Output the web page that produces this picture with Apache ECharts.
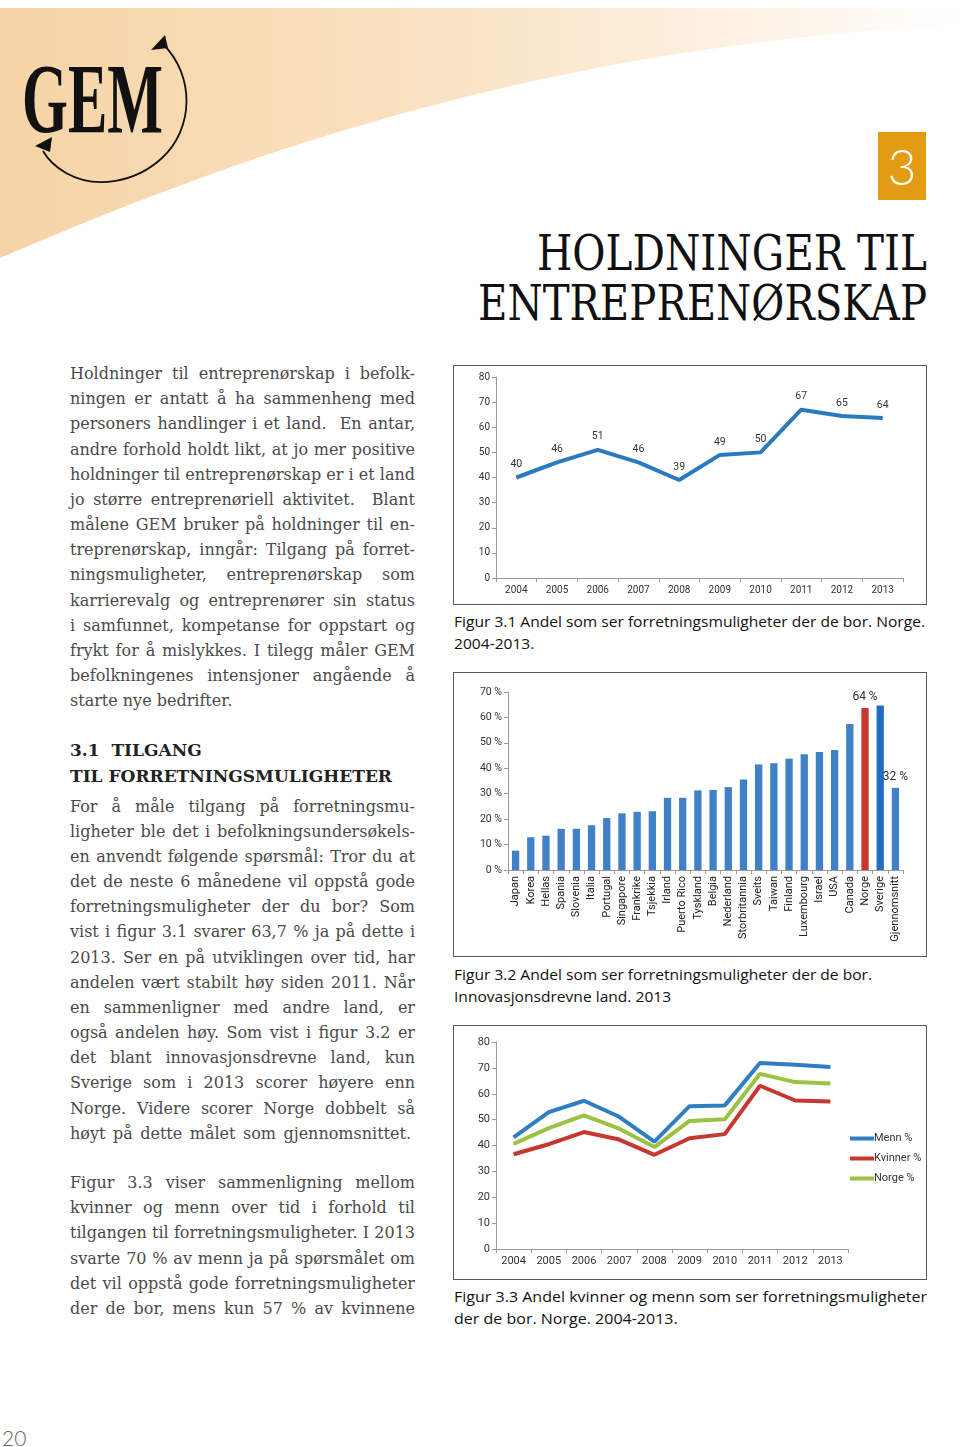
<!DOCTYPE html>
<html>
<head>
<meta charset="utf-8">
<script src="https://cdn.jsdelivr.net/npm/echarts@6/dist/echarts.min.js"></script>
<style>
  html,body{margin:0;padding:0;background:#fff;}
  #page{position:relative;width:960px;height:1447px;overflow:hidden;background:#fff;}
  .body{font-family:"DejaVu Serif",serif;font-size:16px;color:#4a4a4a;}
  .head{font-family:"DejaVu Serif",serif;font-size:17px;font-weight:bold;color:#222;}
  .title{font-family:"DejaVu Serif",serif;font-size:48px;color:#111;}
  .cap{font-family:"Open Sans",sans-serif;font-size:14px;color:#111;}
  .logo{font-family:"Liberation Serif",serif;font-size:100px;font-weight:bold;color:#111;}
  .chart{position:absolute;border:1px solid #5a5a5a;background:#fff;}
  #chapter{position:absolute;left:878px;top:132px;width:48px;height:68px;background:#E49B14;color:#fff;
    font-family:Lato,sans-serif;font-weight:300;font-size:50px;display:flex;align-items:center;justify-content:center;line-height:1;}
  #pnum{position:absolute;left:2px;top:1425px;font-family:Lato,sans-serif;font-weight:300;font-size:21px;color:#666;}
</style>
</head>
<body>
<div id="page">
  <svg id="bg" width="960" height="340" style="position:absolute;left:0;top:0">
    <defs>
      <linearGradient id="pg" x1="0" y1="0" x2="1" y2="0">
        <stop offset="0" stop-color="#F6D4A6"/>
        <stop offset="0.45" stop-color="#F9E2C2"/>
        <stop offset="0.8" stop-color="#FDF3E6"/>
        <stop offset="1" stop-color="#FFFFFF"/>
      </linearGradient>
    </defs>
    <path d="M0,8 L960,8 L960,25 C550,45 250,150 0,258 Z" fill="url(#pg)"/>
    <path d="M163,44 C195,76 194,128 162,158 C136,182 96,190 66,173 C54,166 47,158 43,151" fill="none" stroke="#111" stroke-width="1.8"/>
    <polygon points="165,35 151,50 168,48" fill="#111"/>
    <polygon points="35,146 52,137 50,152" fill="#111"/>
  </svg>
  <div id="chapter">3</div>
  <div class="chart" id="c1" style="left:453px;top:365px;width:472px;height:238px;"></div>
  <div class="chart" id="c2" style="left:453px;top:672px;width:472px;height:283px;"></div>
  <div class="chart" id="c3" style="left:453px;top:1025px;width:472px;height:253px;"></div>
  <div id="pnum">20</div>
</div>
<script>
// ---------- DATA ----------
const years = ['2004','2005','2006','2007','2008','2009','2010','2011','2012','2013'];
const fig1Values = [40, 46, 51, 46, 39, 49, 50, 67, 64.5, 63.7];

const countries = ['Japan','Korea','Hellas','Spania','Slovenia','Italia','Portugal','Singapore','Frankrike','Tsjekkia','Irland','Puerto Rico','Tyskland','Belgia','Nederland','Storbritannia','Sveits','Taiwan','Finland','Luxembourg','Israel','USA','Canada','Norge','Sverige','Gjennomsnitt'];
const countryValues = [7.6, 12.9, 13.5, 16.2, 16.2, 17.6, 20.4, 22.3, 22.9, 23.1, 28.4, 28.4, 31.3, 31.5, 32.6, 35.6, 41.5, 42.0, 43.8, 45.5, 46.4, 47.2, 57.4, 63.7, 64.7, 32.3];
const labeledCountries = ['Norge','Gjennomsnitt'];
const fig2Ticks = ['0 %','10 %','20 %','30 %','40 %','50 %','60 %','70 %'];

const mennValues    = [43.1, 52.9, 57.3, 51.1, 41.5, 55.2, 55.5, 71.9, 71.2, 70.3];
const kvinnerValues = [36.6, 40.5, 45.2, 42.3, 36.4, 42.8, 44.4, 63.1, 57.4, 57.0];
const norgeValues   = [40.6, 46.7, 51.6, 46.5, 39.4, 49.5, 50.1, 67.7, 64.5, 64.0];

// ---------- TEXT LAYOUT ----------
const page = document.getElementById('page');
function placeLine(text, x, baseline, width, cls, mode){
  const d = document.createElement('div');
  d.className = cls;
  d.style.cssText = 'position:absolute;left:'+x+'px;top:0;white-space:pre;';
  const s = document.createElement('span'); s.textContent = text; d.appendChild(s);
  const m = document.createElement('span');
  m.style.cssText = 'display:inline-block;width:0;height:0;vertical-align:baseline;';
  d.appendChild(m);
  page.appendChild(d);
  const w = s.getBoundingClientRect().width;
  const bl = m.getBoundingClientRect().top - d.getBoundingClientRect().top;
  d.style.top = (baseline - bl) + 'px';
  const spaces = (text.match(/ /g) || []).length;
  if (mode === 'justify') {
    if (w < width && spaces > 0) s.style.wordSpacing = ((width - w) / spaces) + 'px';
    else if (w > width) { d.style.transformOrigin = '0 0'; d.style.transform = 'scaleX(' + (width / w) + ')'; }
  } else if (mode === 'fit') {
    d.style.transformOrigin = '0 0'; d.style.transform = 'scaleX(' + (width / w) + ')';
  } else if (mode && mode.scale) {
    d.style.transformOrigin = '0 0'; d.style.transform = 'scaleX(' + mode.scale + ')';
  } else {
    if (w > width) { d.style.transformOrigin = '0 0'; d.style.transform = 'scaleX(' + (width / w) + ')'; }
  }
  return w;
}
function measure(text, cls){
  const s = document.createElement('span'); s.className = cls; s.style.whiteSpace = 'pre';
  s.style.position = 'absolute'; s.style.visibility = 'hidden'; s.textContent = text;
  page.appendChild(s); const w = s.getBoundingClientRect().width; s.remove(); return w;
}

// Logo & title
placeLine('GEM', 22, 132, 141, 'logo', 'fit');
placeLine('HOLDNINGER TIL', 537, 270, 390, 'title', 'fit');
placeLine('ENTREPRENØRSKAP', 478, 320, 449, 'title', 'fit');

const LH = 25.17, LX = 70, LW = 345;
const para1 = [
 'Holdninger til entreprenørskap i befolk-',
 'ningen er antatt å ha sammenheng med',
 'personers handlinger i et land.  En antar,',
 'andre forhold holdt likt, at jo mer positive',
 'holdninger til entreprenørskap er i et land',
 'jo større entreprenøriell aktivitet.  Blant',
 'målene GEM bruker på holdninger til en-',
 'treprenørskap, inngår: Tilgang på forret-',
 'ningsmuligheter, entreprenørskap som',
 'karrierevalg og entreprenører sin status',
 'i samfunnet, kompetanse for oppstart og',
 'frykt for å mislykkes. I tilegg måler GEM',
 'befolkningenes intensjoner angående å',
 'starte nye bedrifter.'
];
para1.forEach((t,i)=>placeLine(t, LX, 379 + i*LH, LW, 'body', i === para1.length-1 ? 'left' : 'justify'));

const hs = 322 / measure('TIL FORRETNINGSMULIGHETER', 'head');
placeLine('3.1  TILGANG', LX, 756, 0, 'head', {scale: hs});
placeLine('TIL FORRETNINGSMULIGHETER', LX, 782, 0, 'head', {scale: hs});

const para2 = [
 'For å måle tilgang på forretningsmu-',
 'ligheter ble det i befolkningsundersøkels-',
 'en anvendt følgende spørsmål: Tror du at',
 'det de neste 6 månedene vil oppstå gode',
 'forretningsmuligheter der du bor? Som',
 'vist i figur 3.1 svarer 63,7 % ja på dette i',
 '2013. Ser en på utviklingen over tid, har',
 'andelen vært stabilt høy siden 2011. Når',
 'en sammenligner med andre land, er',
 'også andelen høy. Som vist i figur 3.2 er',
 'det blant innovasjonsdrevne land, kun',
 'Sverige som i 2013 scorer høyere enn',
 'Norge. Videre scorer Norge dobbelt så',
 'høyt på dette målet som gjennomsnittet.'
];
para2.forEach((t,i)=>placeLine(t, LX, 811.5 + i*LH, i === para2.length-1 ? 341 : LW, 'body', 'justify'));

const para3 = [
 'Figur 3.3 viser sammenligning mellom',
 'kvinner og menn over tid i forhold til',
 'tilgangen til forretningsmuligheter. I 2013',
 'svarte 70 % av menn ja på spørsmålet om',
 'det vil oppstå gode forretningsmuligheter',
 'der de bor, mens kun 57 % av kvinnene'
];
para3.forEach((t,i)=>placeLine(t, LX, 1188 + i*LH, LW, 'body', 'justify'));

// Captions
function caption(l1, l2, w1, b1){
  const sc = w1 / measure(l1, 'cap');
  placeLine(l1, 454, b1, 0, 'cap', {scale: sc});
  placeLine(l2, 454, b1 + 22, 0, 'cap', {scale: sc});
}
caption('Figur 3.1 Andel som ser forretningsmuligheter der de bor. Norge.', '2004-2013.', 471, 627);
caption('Figur 3.2 Andel som ser forretningsmuligheter der de bor.', 'Innovasjonsdrevne land. 2013', 418, 980);
caption('Figur 3.3 Andel kvinner og menn som ser forretningsmuligheter', 'der de bor. Norge. 2004-2013.', 473, 1302);

// ---------- CHARTS ----------
const FONT = 'Roboto, "Open Sans", sans-serif';
const axisLine = {show:true, lineStyle:{color:'#9a9a9a', width:1}};
const axisTick = {show:true, length:4, lineStyle:{color:'#9a9a9a'}};

// Figure 3.1
const c1 = echarts.init(document.getElementById('c1'));
c1.setOption({
  animation:false,
  grid:{left:42, right:23, top:11, bottom:26},
  xAxis:{type:'category', data:years, boundaryGap:true, axisLine, axisTick,
    axisLabel:{fontFamily:FONT, fontSize:10, color:'#333', margin:7}},
  yAxis:{type:'value', min:0, max:80, interval:10, axisLine, axisTick, splitLine:{show:false},
    axisLabel:{fontFamily:FONT, fontSize:10, color:'#333', margin:6}},
  series:[{type:'line', data:fig1Values, symbol:'circle', symbolSize:1, showSymbol:true,
    lineStyle:{color:'#2a7abf', width:4}, itemStyle:{color:'#2a7abf'},
    label:{show:true, position:'top', distance:7, fontFamily:FONT, fontSize:10.5, color:'#333',
      formatter:p=>String(Math.round(p.value))}}]
});

// Figure 3.2
const c2 = echarts.init(document.getElementById('c2'));
const barData = countries.map((c,i)=>{
  const item = {value: countryValues[i]};
  if (c === 'Norge') item.itemStyle = {color:'#c8392b'};
  if (c === 'Sverige') item.itemStyle = {color:'#1f6dc4'};
  if (labeledCountries.includes(c)) item.label = {show:true};
  return item;
});
c2.setOption({
  animation:false,
  grid:{left:54, right:23, top:19, bottom:86},
  xAxis:{type:'category', data:countries, axisLine, axisTick,
    axisLabel:{fontFamily:FONT, fontSize:11, color:'#222', rotate:90, interval:0, margin:6}},
  yAxis:{type:'value', min:0, max:70, interval:10, axisLine, axisTick, splitLine:{show:false},
    axisLabel:{fontFamily:FONT, fontSize:10.5, color:'#333', margin:6, formatter:v=>fig2Ticks[v/10]}},
  series:[{type:'bar', data:barData, barWidth:'48%', itemStyle:{color:'#3f80c6'},
    label:{show:false, position:'top', distance:5, fontFamily:FONT, fontSize:12, color:'#333',
      formatter:p=>Math.round(p.value)+' %'}}]
});

// Figure 3.3
const c3 = echarts.init(document.getElementById('c3'));
const lineS = (name, data, color)=>({type:'line', name, data, symbol:'none', lineStyle:{color, width:4}, itemStyle:{color}});
c3.setOption({
  animation:false,
  grid:{left:42, right:78, top:16, bottom:30},
  legend:{orient:'vertical', left:391, top:101, itemWidth:24, itemHeight:4, itemGap:7, icon:'rect',
    textStyle:{fontFamily:FONT, fontSize:11, color:'#333', padding:[0,0,0,-5], lineHeight:13},
    data:['Menn %','Kvinner %','Norge %']},
  xAxis:{type:'category', data:years, boundaryGap:true, axisLine, axisTick,
    axisLabel:{fontFamily:FONT, fontSize:11, color:'#333', margin:7}},
  yAxis:{type:'value', min:0, max:80, interval:10, axisLine, axisTick, splitLine:{show:false},
    axisLabel:{fontFamily:FONT, fontSize:11, color:'#333', margin:6}},
  series:[
    lineS('Menn %', mennValues, '#2f7ec3'),
    lineS('Kvinner %', kvinnerValues, '#c8372d'),
    lineS('Norge %', norgeValues, '#9cc241')
  ]
});
</script>
</body>
</html>
